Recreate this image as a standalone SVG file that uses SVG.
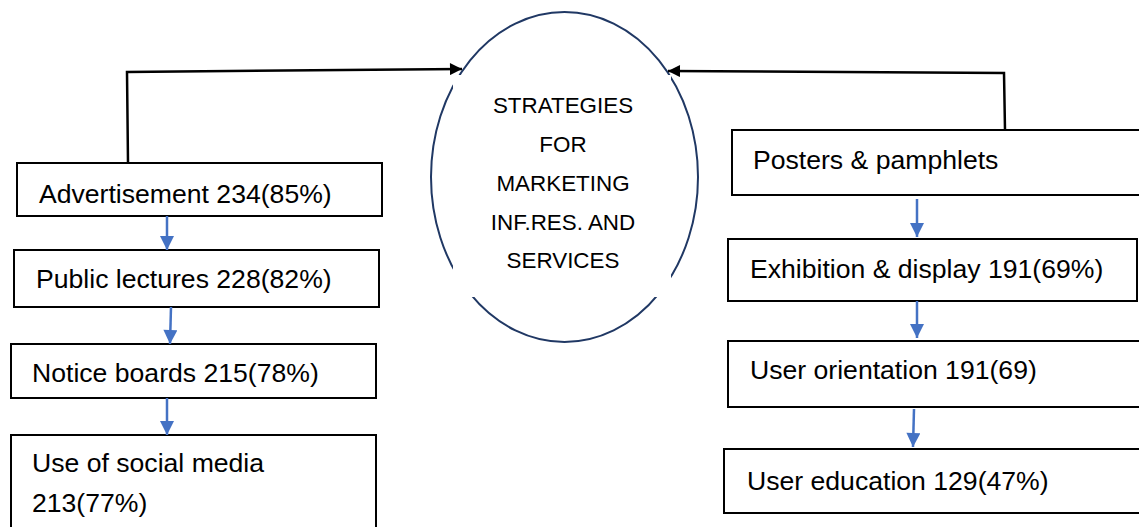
<svg xmlns="http://www.w3.org/2000/svg" width="1139" height="527" viewBox="0 0 1139 527">
<style>
.box{fill:#fff;stroke:#000;stroke-width:2}
.t{font-family:"Liberation Sans",Arial,sans-serif;font-size:26.6px;fill:#000}
.c{font-family:"Liberation Sans",Arial,sans-serif;font-size:22.4px;fill:#000;text-anchor:middle}
.blk{fill:none;stroke:#000;stroke-width:2.5}
.blu{fill:none;stroke:#4472C4;stroke-width:2.5}
</style>
<defs>
<marker id="ab" viewBox="0 0 10 10" refX="10" refY="5" markerWidth="15" markerHeight="12" markerUnits="userSpaceOnUse" orient="auto">
<path d="M0,0 L10,5 L0,10 Z" fill="#000"/>
</marker>
<marker id="au" viewBox="0 0 10 10" refX="10" refY="5" markerWidth="15" markerHeight="14" markerUnits="userSpaceOnUse" orient="auto">
<path d="M0,0 L10,5 L0,10 Z" fill="#4472C4"/>
</marker>
</defs>
<rect width="1139" height="527" fill="#fff"/>
<g id="center">
<ellipse cx="564.5" cy="177" rx="133.5" ry="165" fill="#fff" stroke="#203864" stroke-width="2"/>
<rect x="453" y="75" width="218" height="222" fill="#fff"/>
<text class="c" x="563" y="113">STRATEGIES</text>
<text class="c" x="563" y="152">FOR</text>
<text class="c" x="563" y="191">MARKETING</text>
<text class="c" x="563" y="230">INF.RES. AND</text>
<text class="c" x="563" y="268">SERVICES</text>
</g>
<g id="adv"><rect class="box" x="17" y="163" width="365" height="53"/><text class="t" x="39" y="203">Advertisement 234(85%)</text></g>
<g id="pub"><rect class="box" x="14" y="250" width="365" height="57"/><text class="t" x="36" y="288">Public lectures 228(82%)</text></g>
<g id="notice"><rect class="box" x="11" y="344" width="365" height="54"/><text class="t" x="32" y="382">Notice boards 215(78%)</text></g>
<g id="social"><rect class="box" x="11" y="435" width="365" height="100"/><text class="t" x="32" y="472">Use of social media</text><text class="t" x="32" y="512">213(77%)</text></g>
<g id="posters"><rect class="box" x="732" y="130" width="420" height="65"/><text class="t" x="753" y="169">Posters &amp; pamphlets</text></g>
<g id="exhib"><rect class="box" x="728" y="239" width="409" height="62"/><text class="t" x="750" y="278">Exhibition &amp; display 191(69%)</text></g>
<g id="orient"><rect class="box" x="728" y="341" width="420" height="66"/><text class="t" x="750" y="379">User orientation 191(69)</text></g>
<g id="educ"><rect class="box" x="724" y="449" width="420" height="64"/><text class="t" x="747" y="490">User education 129(47%)</text></g>
<g id="connectors">
<path class="blk" d="M128,163 L127,72 L462,69" marker-end="url(#ab)"/>
<path class="blk" d="M1005,130 L1004,73 L668,71" marker-end="url(#ab)"/>
<path class="blu" d="M167,216 L167,250" marker-end="url(#au)"/>
<path class="blu" d="M171,307 L170,344" marker-end="url(#au)"/>
<path class="blu" d="M167,398 L167,435" marker-end="url(#au)"/>
<path class="blu" d="M917,199 L917,237" marker-end="url(#au)"/>
<path class="blu" d="M917,301 L917,338" marker-end="url(#au)"/>
<path class="blu" d="M914,409 L913,447" marker-end="url(#au)"/>
</g>
</svg>
